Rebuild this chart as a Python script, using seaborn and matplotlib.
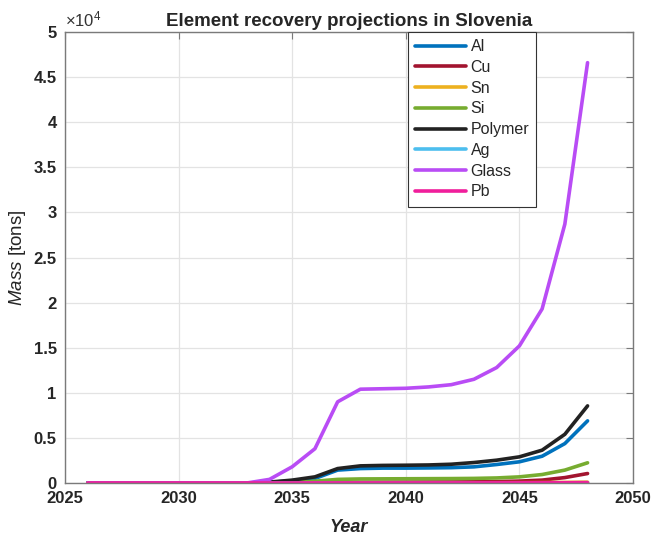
import numpy as np
import pandas as pd
import matplotlib
matplotlib.use("Agg")
import matplotlib.pyplot as plt
import seaborn as sns

years = list(range(2026, 2049))

al = [0, 0, 0, 0, 0, 0, 0, 0, 60, 250, 500, 1430, 1600, 1650, 1650, 1670, 1700, 1790, 2050, 2350, 2970, 4370, 6890]
cu = [0, 0, 0, 0, 0, 0, 0, 0, 5, 20, 40, 60, 70, 80, 90, 100, 110, 130, 160, 210, 320, 600, 1050]
sn = [0, 0, 0, 0, 0, 0, 0, 0, 2, 5, 10, 15, 18, 20, 20, 22, 24, 26, 30, 35, 45, 60, 90]
si = [0, 0, 0, 0, 0, 0, 0, 0, 20, 80, 200, 400, 450, 460, 470, 480, 490, 510, 560, 680, 940, 1430, 2240]
polymer = [0, 0, 0, 0, 0, 0, 0, 0, 100, 320, 680, 1600, 1900, 1950, 1970, 2000, 2080, 2270, 2530, 2900, 3640, 5400, 8550]
ag = [0, 0, 0, 0, 0, 0, 0, 0, 1, 2, 4, 6, 7, 7, 7, 8, 8, 9, 10, 12, 15, 20, 30]
glass = [0, 0, 0, 0, 0, 0, 0, 0, 400, 1800, 3800, 9000, 10400, 10450, 10500, 10650, 10900, 11500, 12800, 15200, 19300, 28700, 46600]
pb = [0, 0, 0, 0, 0, 0, 0, 0, 2, 5, 8, 10, 12, 12, 13, 14, 15, 16, 18, 20, 24, 30, 40]

names = ["Al", "Cu", "Sn", "Si", "Polymer", "Ag", "Glass", "Pb"]
colors = ["#0072BD", "#A2142F", "#EDB120", "#77AC30", "#222222", "#4DBEEE", "#B94CF5", "#F01E9B"]
series = [al, cu, sn, si, polymer, ag, glass, pb]

df = pd.DataFrame({"Year": years * len(names),
                   "Mass": [v for s in series for v in s],
                   "Element": [n for n in names for _ in years]})

sns.set_theme(style="whitegrid")
plt.rcParams["font.family"] = ["Liberation Sans", "DejaVu Sans"]
plt.rcParams["mathtext.fontset"] = "custom"
plt.rcParams["mathtext.it"] = "Liberation Sans:italic"
plt.rcParams["mathtext.rm"] = "Liberation Sans"
plt.rcParams["mathtext.bf"] = "Liberation Sans:bold"

fig = plt.figure(figsize=(6.57, 5.37), dpi=100)
ax = fig.add_axes([65 / 657, 1 - 483 / 537, (633 - 65) / 657, (483 - 32) / 537])
ax.set_facecolor("white")

sns.lineplot(data=df, x="Year", y="Mass", hue="Element", hue_order=names,
             palette=colors, linewidth=2.6, ax=ax, legend=True)

ax.set_xlim(2025, 2050)
ax.set_ylim(0, 50000)
ax.set_xticks(range(2025, 2051, 5))
ax.set_yticks(np.arange(0, 50001, 5000))
ax.set_yticklabels(["0", "0.5", "1", "1.5", "2", "2.5", "3", "3.5", "4", "4.5", "5"])
ax.tick_params(axis="both", direction="in", length=5, width=0.8, color="#7a7a7a",
               labelsize=12, pad=6, top=True, right=True)
for lab in ax.get_xticklabels() + ax.get_yticklabels():
    lab.set_fontweight("bold")
ax.grid(True, color="#e3e3e3", linewidth=0.9)
for sp in ax.spines.values():
    sp.set_color("#7a7a7a")
    sp.set_linewidth(1.0)

ax.text(0.0, 1.005, r"$\times$10$^{4}$", transform=ax.transAxes, fontsize=12,
        ha="left", va="bottom", color="#333333")

ax.set_title("Element recovery projections in Slovenia", fontsize=13.5,
             fontweight="bold", pad=4)
ax.set_xlabel("Year", fontsize=13, fontweight="bold", style="italic")
ax.xaxis.set_label_coords(0.5, -0.08)
ax.set_ylabel(r"$\it{Mass}$ [tons]", fontsize=13.5)
ax.yaxis.set_label_coords(-0.066, 0.5)

leg = ax.legend(loc="upper left", bbox_to_anchor=(0.603, 1.0), borderaxespad=0,
                frameon=True, fancybox=False, edgecolor="#333333", fontsize=11.5,
                handlelength=3.2, handletextpad=0.3, labelspacing=0.36,
                borderpad=0.45, framealpha=1)
leg.get_frame().set_linewidth(0.8)
for line in leg.get_lines():
    line.set_linewidth(2.6)

fig.savefig("out.png", dpi=100)
